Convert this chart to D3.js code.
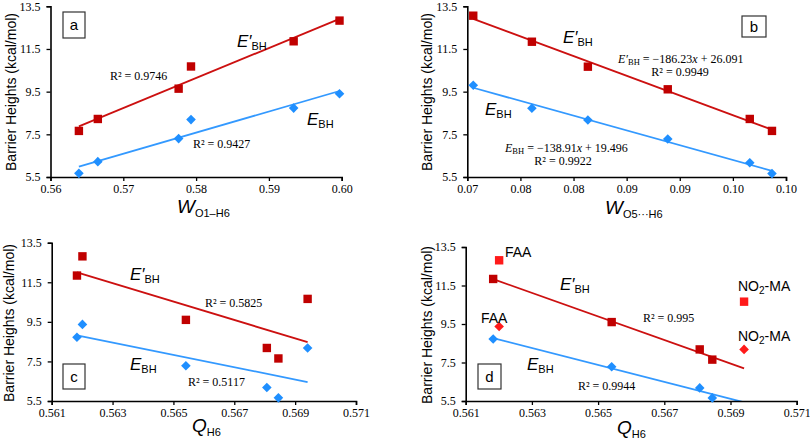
<!DOCTYPE html>
<html><head><meta charset="utf-8">
<script src="https://cdn.jsdelivr.net/npm/d3@7"></script>
<style>
body{margin:0;background:#fff;}
svg{display:block;}
.tick text{font-family:"Liberation Serif","Times New Roman",serif;font-size:12px;fill:#000;}
.sans{font-family:"Liberation Sans",Arial,sans-serif;}
.serif{font-family:"Liberation Serif","Times New Roman",serif;}
</style></head>
<body>
<svg id="chart" width="810" height="443"></svg>
<script>
// ---------------- DATA ----------------
// Panel a: W(O1–H6)
const wO1H6      = [0.5639, 0.5665, 0.5776, 0.5793, 0.5934, 0.5997];
const ebhPrimeA  = [7.66, 8.22, 9.64, 10.68, 11.86, 12.83];
const ebhA       = [5.67, 6.22, 7.30, 8.19, 8.73, 9.40];
// Panel b: W(O5···H6)
const wO5H6      = [0.07056, 0.07608, 0.08135, 0.08887, 0.09659, 0.09868];
const ebhPrimeB  = [13.06, 11.84, 10.67, 9.61, 8.22, 7.66];
const ebhB       = [9.80, 8.72, 8.17, 7.28, 6.17, 5.66];
// Panels c, d: Q(H6)
const qH6        = [0.56183, 0.56201, 0.56541, 0.56807, 0.56845, 0.56941];
const ebhPrimeQ  = [11.84, 12.81, 9.60, 8.18, 7.65, 10.66];
const ebhQ       = [8.72, 9.37, 7.28, 6.18, 5.66, 8.18];
const compoundQ  = ["", "FAA", "", "", "", "NO2-MA"];
const outlierD   = [false, true, false, false, false, true];

// Ticks
const yTicks       = [5.5, 7.5, 9.5, 11.5, 13.5];
const yTickLabels  = ["5.5", "7.5", "9.5", "11.5", "13.5"];
const xTicksA      = [0.56, 0.57, 0.58, 0.59, 0.60];
const xTickLabelsA = ["0.56", "0.57", "0.58", "0.59", "0.60"];
const xTicksB      = [0.070, 0.075, 0.080, 0.085, 0.090, 0.095, 0.100];
const xTickLabelsB = ["0.07", "0.08", "0.08", "0.09", "0.09", "0.10", "0.10"];
const xTicksQ      = [0.561, 0.563, 0.565, 0.567, 0.569, 0.571];
const xTickLabelsQ = ["0.561", "0.563", "0.565", "0.567", "0.569", "0.571"];

// ---------------- STYLE ----------------
const RED_M = "#c00000", RED_L = "#cc1010", BRIGHT = "#ff1a1a";
const BLUE_M = "#1f8fff", BLUE_L = "#3399ff";

const svg = d3.select("#chart");

function fit(xs, ys) {
  const n = xs.length, mx = d3.mean(xs), my = d3.mean(ys);
  let sxy = 0, sxx = 0;
  for (let i = 0; i < n; i++) { sxy += (xs[i]-mx)*(ys[i]-my); sxx += (xs[i]-mx)**2; }
  const b = sxy / sxx; return x => my + b*(x - mx);
}

const panels = [
  {id:"a", xs:wO1H6, yp:ebhPrimeA, ye:ebhA, xd:[0.56,0.60], xr:[50.5,341.7], yr:[177,6.3],
   xt:xTicksA, xl:xTickLabelsA, box:[63,12,22,26]},
  {id:"b", xs:wO5H6, yp:ebhPrimeB, ye:ebhB, xd:[0.07,0.10], xr:[467.3,786], yr:[177,6.3],
   xt:xTicksB, xl:xTickLabelsB, box:[742,16,24,21]},
  {id:"c", xs:qH6, yp:ebhPrimeQ, ye:ebhQ, xd:[0.561,0.571], xr:[51.7,356], yr:[401,242.7],
   xt:xTicksQ, xl:xTickLabelsQ, box:[63,364,22,25]},
  {id:"d", xs:qH6, yp:ebhPrimeQ, ye:ebhQ, xd:[0.561,0.571], xr:[465.7,796.7], yr:[401,247],
   xt:xTicksQ, xl:xTickLabelsQ, box:[478,364,23,25], out:outlierD}
];

panels.forEach(p => {
  const g = svg.append("g");
  const x = d3.scaleLinear().domain(p.xd).range(p.xr);
  const y = d3.scaleLinear().domain([5.5, 13.5]).range(p.yr);
  const clipId = "clip" + p.id;
  svg.append("clipPath").attr("id", clipId).append("rect")
     .attr("x", p.xr[0]).attr("y", p.yr[1]-10).attr("width", p.xr[1]-p.xr[0]+10).attr("height", p.yr[0]-p.yr[1]+10);

  // trendlines
  const use = p.xs.map((_, i) => !(p.out && p.out[i]));
  const fx = p.xs.filter((_, i) => use[i]);
  const fitP = fit(fx, p.yp.filter((_, i) => use[i]));
  const fitE = fit(fx, p.ye.filter((_, i) => use[i]));
  const ext = d3.extent(p.xs);
  const lg = g.append("g").attr("clip-path", `url(#${clipId})`);
  [[fitP, RED_L], [fitE, BLUE_L]].forEach(([f, c]) => {
    lg.append("line").attr("x1", x(ext[0])).attr("y1", y(f(ext[0])))
      .attr("x2", x(ext[1])).attr("y2", y(f(ext[1])))
      .attr("stroke", c).attr("stroke-width", 1.8);
  });

  // axes
  const ax = g.append("g").attr("transform", `translate(0,${p.yr[0]})`)
    .call(d3.axisBottom(x).tickValues(p.xt).tickFormat((d, i) => p.xl[i]).tickSizeOuter(0).tickSize(4).tickPadding(3));
  const ay = g.append("g").attr("transform", `translate(${p.xr[0]},0)`)
    .call(d3.axisLeft(y).tickValues(yTicks).tickFormat((d, i) => yTickLabels[i]).tickSizeOuter(0).tickSize(4).tickPadding(6));
  [ax, ay].forEach(a => { a.select(".domain").attr("stroke", "#000").attr("stroke-width", 1.6);
    a.selectAll(".tick line").attr("stroke", "#000").attr("stroke-width", 1.3); });

  // markers
  p.xs.forEach((xv, i) => {
    const o = p.out && p.out[i];
    g.append("rect").attr("x", x(xv)-4.2).attr("y", y(p.yp[i])-4.2).attr("width", 8.4).attr("height", 8.4)
      .attr("fill", o ? BRIGHT : RED_M);
    const cx = x(xv), cy = y(p.ye[i]), r = 4.8;
    g.append("path").attr("d", `M${cx},${cy-r}L${cx+r},${cy}L${cx},${cy+r}L${cx-r},${cy}Z`)
      .attr("fill", o ? BRIGHT : BLUE_M);
  });

  // panel label box
  g.append("rect").attr("x", p.box[0]).attr("y", p.box[1]).attr("width", p.box[2]).attr("height", p.box[3])
    .attr("fill", "#fff").attr("stroke", "#333").attr("stroke-width", 1.2);
  g.append("text").attr("class", "sans").attr("x", p.box[0]+p.box[2]/2).attr("y", p.box[1]+p.box[3]/2+5)
    .attr("text-anchor", "middle").attr("font-size", 15).text(p.id);
});

// ---------------- TEXT HELPERS ----------------
function eLabel(x, yb, prime) {
  const t = svg.append("text").attr("class", "sans").attr("x", x).attr("y", yb);
  t.append("tspan").attr("font-style", "italic").attr("font-size", 17).text(prime ? "E′" : "E");
  t.append("tspan").attr("font-size", 11).attr("dy", 3).text("BH");
}
function serifText(x, yb, str, anchor) {
  svg.append("text").attr("class", "serif").attr("x", x).attr("y", yb).attr("font-size", 12)
    .attr("text-anchor", anchor || "start").text(str);
}
function eqText(x, yb, prime, rest) {
  const t = svg.append("text").attr("class", "serif").attr("x", x).attr("y", yb).attr("font-size", 12);
  t.append("tspan").attr("font-style", "italic").text(prime ? "E′" : "E");
  t.append("tspan").attr("font-size", 8.5).attr("dy", 2).text("BH");
  t.append("tspan").attr("dy", -2).text(" = " + rest[0]);
  t.append("tspan").attr("font-style", "italic").text("x");
  t.append("tspan").text(" + " + rest[1]);
}
function yTitle(cx, cy) {
  svg.append("text").attr("class", "sans").attr("font-size", 14).attr("text-anchor", "middle")
    .attr("transform", `translate(${cx},${cy}) rotate(-90)`).attr("dy", "0.35em")
    .text("Barrier Heights (kcal/mol)");
}
function xTitle(x, yb, main, sub) {
  const t = svg.append("text").attr("class", "sans").attr("x", x).attr("y", yb);
  t.append("tspan").attr("font-style", "italic").attr("font-size", 19).text(main);
  t.append("tspan").attr("font-size", 11).attr("dy", 4).text(sub);
}
function compLabel(x, yb, name) {
  const t = svg.append("text").attr("class", "sans").attr("x", x).attr("y", yb).attr("font-size", 14);
  if (name.startsWith("NO2")) {
    t.append("tspan").text("NO");
    t.append("tspan").attr("font-size", 10).attr("dy", 3).text("2");
    t.append("tspan").attr("dy", -3).text("-MA");
  } else t.text(name);
}

// axis titles
yTitle(11, 92); yTitle(427, 92); yTitle(9, 323); yTitle(427, 325);
xTitle(177, 213, "W", "O1–H6");
xTitle(605, 214, "W", "O5···H6");
xTitle(192, 432, "Q", "H6");
xTitle(617, 434, "Q", "H6");

// panel a
eLabel(237, 47, true);  serifText(110, 80, "R² = 0.9746");
eLabel(307, 125, false); serifText(193, 148, "R² = 0.9427");
// panel b
eLabel(563, 43, true);  eqText(618, 63, true, ["−186.23", "26.091"]); serifText(680, 76, "R² = 0.9949", "middle");
eLabel(485, 115, false); eqText(505, 152, false, ["−138.91", "19.496"]); serifText(563, 165, "R² = 0.9922", "middle");
// panel c
eLabel(130, 280, true);  serifText(205, 307, "R² = 0.5825");
eLabel(130, 370, false); serifText(188, 386, "R² = 0.5117");
// panel d
eLabel(560, 290, true);  serifText(643, 322, "R² = 0.995");
eLabel(527, 370, false); serifText(578, 390, "R² = 0.9944");
compLabel(505, 257, compoundQ[1]); compLabel(481, 323, compoundQ[1]);
compLabel(738, 291, compoundQ[5]); compLabel(738, 341, compoundQ[5]);
</script>
</body></html>
